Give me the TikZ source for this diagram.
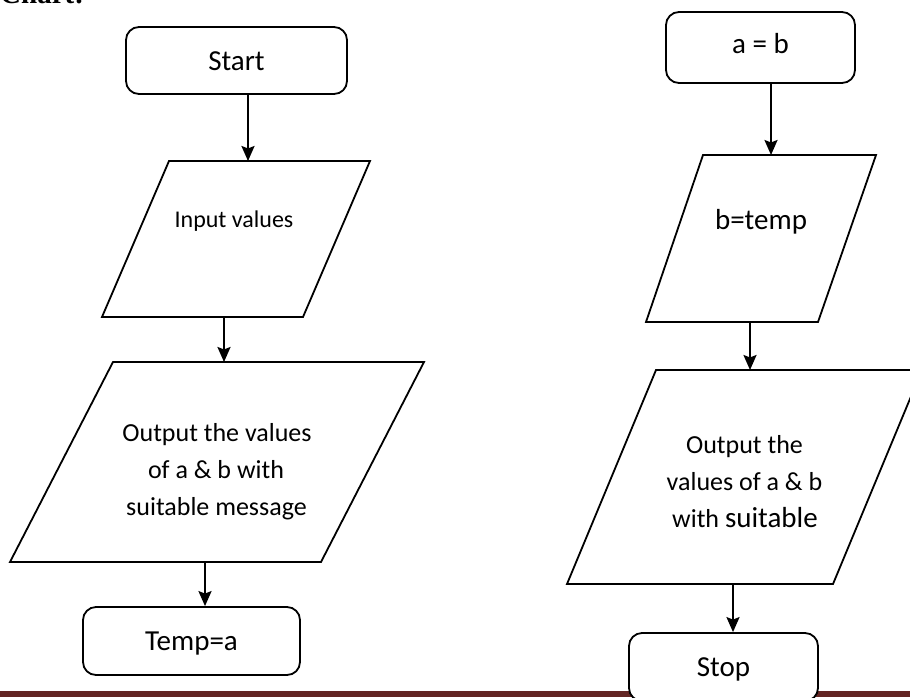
\documentclass[tikz,border=0pt]{standalone}
\usepackage{fontspec}
\setmainfont{Carlito}
\newfontfamily\headfont{Liberation Serif}
\usetikzlibrary{arrows.meta}
\definecolor{rulered}{RGB}{99,37,35}

\begin{document}
\begin{tikzpicture}[x=1pt,y=-1pt,
  termbox/.style={draw, line width=1.8pt, rounded corners=13pt, fill=white,
    font=\fontsize{29}{35}\selectfont, text height=19pt, text depth=0pt, inner sep=0pt},
  iobox/.style={draw, line width=1.8pt, line join=miter},
  iotext/.style={anchor=base, inner sep=0pt, font=\fontsize{26}{31}\selectfont},
  bigtext/.style={anchor=base, inner sep=0pt, font=\fontsize{29}{35}\selectfont},
  flow/.style={line width=2.2pt, -{Stealth[length=15pt,width=13pt,inset=2.5pt]}}
]
\useasboundingbox (0,0) rectangle (910,697);

% page heading, cut off at the top edge
\node[anchor=base west, inner sep=0pt,
      font=\headfont\bfseries\fontsize{29}{35}\selectfont] (title) at (0,3.5) {Chart:};

% footer rule
\fill[rulered] (0,691) rectangle (910,697);

% ---------- left column ----------
\node[termbox, minimum width=221pt, minimum height=67pt] (start) at (236.5,60.5) {Start};

\draw[iobox] (169,161) -- (370,161) -- (303,317) -- (102,317) -- cycle;
\node[iotext, font=\fontsize{24}{29}\selectfont] (inp) at (234,227) {Input values};
\coordinate (inp-top) at (248,161);
\coordinate (inp-bot) at (224,317);

\draw[iobox] (113,362) -- (424,362) -- (321,562) -- (10,562) -- cycle;
\node[iotext] (outl1) at (217,441) {Output the values};
\node[iotext] (outl2) at (216,478) {of a \& b with};
\node[iotext] (outl3) at (216.5,515) {suitable message};
\coordinate (outl-top) at (224,362);
\coordinate (outl-bot) at (205,562);

\node[termbox, minimum width=217pt, minimum height=68pt] (temp) at (191.5,641) {Temp=a};

\draw[flow] (start.south -| inp-top) -- (inp-top);
\draw[flow] (inp-bot) -- (outl-top);
\draw[flow] (outl-bot) -- (outl-bot |- temp.north);

% ---------- right column ----------
\node[termbox, minimum width=189pt, minimum height=71pt, text depth=7pt] (ab) at (760.5,47.5) {a = b};

\draw[iobox] (703,155) -- (876,155) -- (818,322) -- (646,322) -- cycle;
\node[bigtext] (bt) at (761,229) {b=temp};
\coordinate (bt-top) at (771,155);
\coordinate (bt-bot) at (750,322);

\draw[iobox] (656,370) -- (922,370) -- (833,584) -- (567,584) -- cycle;
\node[iotext] (outr1) at (744.5,453) {Output the};
\node[iotext] (outr2) at (744.5,490) {values of a \& b};
\node[iotext] (outr3) at (745,527) {with {\fontsize{29}{35}\selectfont suitable}};
\coordinate (outr-top) at (750,370);
\coordinate (outr-bot) at (733,584);

\node[termbox, minimum width=189pt, minimum height=68pt] (stop) at (723.5,667) {Stop};

\draw[flow] (ab.south -| bt-top) -- (bt-top);
\draw[flow] (bt-bot) -- (outr-top);
\draw[flow] (outr-bot) -- (outr-bot |- stop.north);
\end{tikzpicture}
\end{document}
